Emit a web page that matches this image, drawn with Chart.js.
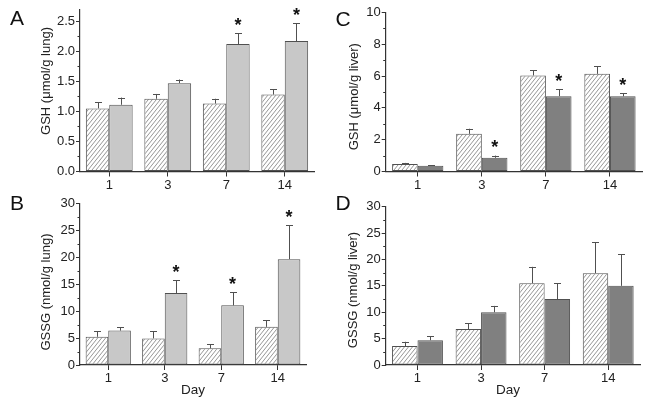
<!DOCTYPE html>
<html><head><meta charset="utf-8">
<script src="https://cdn.jsdelivr.net/npm/chart.js@4.4.1/dist/chart.umd.min.js"></script>
<style>
html,body{margin:0;padding:0;background:#fff;width:649px;height:405px;overflow:hidden}
canvas{position:absolute;display:block}
</style></head><body>
<canvas id="cA" width="322" height="195" style="left:0;top:0"></canvas>
<canvas id="cB" width="322" height="210" style="left:0;top:195px"></canvas>
<canvas id="cC" width="327" height="195" style="left:322px;top:0"></canvas>
<canvas id="cD" width="327" height="210" style="left:322px;top:195px"></canvas>
<script>
// ---- data ----
const days = ['1', '3', '7', '14'];

const lungGshCtrl = [1.05, 1.21, 1.13, 1.28];
const lungGshCtrlErr = [0.10, 0.08, 0.08, 0.09];
const lungGshTreat = [1.11, 1.47, 2.12, 2.17];
const lungGshTreatErr = [0.12, 0.06, 0.18, 0.30];
const lungGshStars = [false, false, true, true];
const lungGshTicks = [0, 0.5, 1.0, 1.5, 2.0, 2.5];

const lungGssgCtrl = [5.25, 4.95, 3.1, 7.1];
const lungGssgCtrlErr = [1.05, 1.35, 0.8, 1.25];
const lungGssgTreat = [6.4, 13.4, 11.1, 19.7];
const lungGssgTreatErr = [0.6, 2.4, 2.4, 6.3];
const lungGssgStars = [false, true, true, true];
const lungGssgTicks = [0, 5, 10, 15, 20, 25, 30];

const liverGshCtrl = [0.47, 2.37, 6.04, 6.14];
const liverGshCtrlErr = [0.07, 0.32, 0.33, 0.48];
const liverGshTreat = [0.36, 0.86, 4.74, 4.73];
const liverGshTreatErr = [0.04, 0.14, 0.42, 0.19];
const liverGshStars = [false, true, true, true];
const liverGshTicks = [0, 2, 4, 6, 8, 10];

const liverGssgCtrl = [3.6, 6.8, 15.5, 17.4];
const liverGssgCtrlErr = [0.8, 1.15, 3.1, 5.9];
const liverGssgTreat = [4.7, 10.0, 12.5, 15.0];
const liverGssgTreatErr = [0.75, 1.2, 3.0, 6.0];
const liverGssgStars = [false, false, false, false];
const liverGssgTicks = [0, 5, 10, 15, 20, 25, 30];

// ---- styles ----
const FONT = '"Liberation Sans", Arial, sans-serif';
const AXIS = '#333333';
const EDGE = '#505050';

function hatch() {
  const w = 4, h = 5;
  const c = document.createElement('canvas');
  c.width = w; c.height = h;
  const g = c.getContext('2d');
  g.fillStyle = '#ffffff'; g.fillRect(0, 0, w, h);
  g.strokeStyle = '#8a8a8a'; g.lineWidth = 0.9;
  for (const o of [-w, 0, w]) {
    g.beginPath(); g.moveTo(o, h); g.lineTo(o + w, 0); g.stroke();
  }
  return document.getElementById('cA').getContext('2d').createPattern(c, 'repeat');
}
const HATCH = hatch();

const overlay = {
  id: 'overlay',
  afterDatasetsDraw(chart, args, o) {
    const ctx = chart.ctx, y = chart.scales.y;
    ctx.save();
    // error bars + significance
    chart.data.datasets.forEach((ds, di) => {
      const meta = chart.getDatasetMeta(di);
      meta.data.forEach((bar, i) => {
        const v = ds.data[i], e = ds.errors[i];
        const yb = y.getPixelForValue(v), yt = y.getPixelForValue(v + e);
        const cx = Math.round(bar.x) + 0.5;
        ctx.strokeStyle = EDGE; ctx.lineWidth = 1;
        ctx.beginPath();
        ctx.moveTo(cx, yb); ctx.lineTo(cx, yt);
        ctx.moveTo(cx - 3.5, Math.round(yt) + 0.5); ctx.lineTo(cx + 3.5, Math.round(yt) + 0.5);
        ctx.stroke();
        if (ds.stars && ds.stars[i]) {
          ctx.fillStyle = '#111'; ctx.font = 'bold 18px ' + FONT;
          ctx.textAlign = 'center'; ctx.textBaseline = 'alphabetic';
          ctx.fillText('*', bar.x, yt - 12.5 + 10.3);
        }
      });
    });
    // minor ticks
    const vals = y.ticks.map(t => t.value);
    ctx.strokeStyle = AXIS; ctx.lineWidth = 1;
    ctx.beginPath();
    for (let i = 0; i < vals.length - 1; i++) {
      const m = (vals[i] + vals[i + 1]) / 2;
      const py = Math.round(y.getPixelForValue(m)) + 0.5;
      ctx.moveTo(y.right - 2.5, py); ctx.lineTo(y.right, py);
    }
    ctx.stroke();
    // texts
    ctx.fillStyle = '#111';
    ctx.font = '21px ' + FONT; ctx.textAlign = 'left'; ctx.textBaseline = 'alphabetic';
    ctx.fillText(o.letter, o.lx, o.ly);
    ctx.font = '13px ' + FONT; ctx.fillStyle = '#222';
    ctx.save();
    ctx.translate(o.tx, o.ty); ctx.rotate(-Math.PI / 2);
    ctx.textAlign = 'center'; ctx.textBaseline = 'middle';
    ctx.fillText(o.ytitle, 0, 0);
    ctx.restore();
    if (o.xtitle) {
      ctx.font = '13.5px ' + FONT; ctx.textAlign = 'center'; ctx.textBaseline = 'middle';
      ctx.fillText(o.xtitle, o.xx, o.xy);
    }
    ctx.restore();
  }
};

function panel(id, p) {
  new Chart(document.getElementById(id), {
    type: 'bar',
    data: {
      labels: days,
      datasets: [
        { data: p.ctrl, errors: p.ctrlErr, backgroundColor: HATCH, borderColor: EDGE, borderWidth: 1,
          borderSkipped: false, categoryPercentage: 0.8, barPercentage: 1.0 },
        { data: p.treat, errors: p.treatErr, stars: p.stars, backgroundColor: p.fill, borderColor: EDGE, borderWidth: 1,
          borderSkipped: false, categoryPercentage: 0.8, barPercentage: 1.0 }
      ]
    },
    options: {
      responsive: false, devicePixelRatio: 1, animation: false,
      layout: { padding: { left: 0, top: p.top, right: p.right, bottom: 0 } },
      plugins: { legend: { display: false }, tooltip: { enabled: false }, overlay: p.text },
      scales: {
        x: {
          afterFit: s => { s.height = p.xh; },
          grid: { display: true, drawOnChartArea: false, offset: false, tickLength: 5, tickColor: AXIS, tickWidth: 1 },
          border: { display: true, color: AXIS, width: 1.2 },
          ticks: { color: '#222', font: { family: FONT, size: 13 }, padding: 1, autoSkip: false, maxRotation: 0 }
        },
        y: {
          min: 0, max: p.max,
          afterFit: s => { s.width = p.left; },
          afterBuildTicks: s => { s.ticks = p.ticks.map(v => ({ value: v })); },
          grid: { display: true, drawOnChartArea: false, tickLength: 4, tickColor: AXIS, tickWidth: 1 },
          border: { display: true, color: AXIS, width: 1.2 },
          ticks: { color: '#222', font: { family: FONT, size: 13 }, padding: 1,
                   callback: v => p.dec ? Number(v).toFixed(1) : String(v) }
        }
      }
    },
    plugins: [overlay]
  });
}

panel('cA', { ctrl: lungGshCtrl, ctrlErr: lungGshCtrlErr, treat: lungGshTreat, treatErr: lungGshTreatErr,
  stars: lungGshStars, ticks: lungGshTicks, max: 2.7, dec: true, fill: '#c8c8c8',
  left: 80, right: 8, top: 9.2, xh: 23.5,
  text: { letter: 'A', lx: 10, ly: 24.5, ytitle: 'GSH (\u03bcmol/g lung)', tx: 46, ty: 81 } });

panel('cB', { ctrl: lungGssgCtrl, ctrlErr: lungGssgCtrlErr, treat: lungGssgTreat, treatErr: lungGssgTreatErr,
  stars: lungGssgStars, ticks: lungGssgTicks, max: 30, dec: false, fill: '#c8c8c8',
  left: 80, right: 16, top: 8.3, xh: 40,
  text: { letter: 'B', lx: 10, ly: 15, ytitle: 'GSSG (nmol/g lung)', tx: 46, ty: 97, xtitle: 'Day', xx: 193, xy: 195 } });

panel('cC', { ctrl: liverGshCtrl, ctrlErr: liverGshCtrlErr, treat: liverGshTreat, treatErr: liverGshTreatErr,
  stars: liverGshStars, ticks: liverGshTicks, max: 10, dec: false, fill: '#808080',
  left: 63.7, right: 7, top: 12.5, xh: 23.5,
  text: { letter: 'C', lx: 13.5, ly: 26, ytitle: 'GSH (\u03bcmol/g liver)', tx: 32, ty: 96.7 } });

panel('cD', { ctrl: liverGssgCtrl, ctrlErr: liverGssgCtrlErr, treat: liverGssgTreat, treatErr: liverGssgTreatErr,
  stars: liverGssgStars, ticks: liverGssgTicks, max: 30, dec: false, fill: '#808080',
  left: 63.7, right: 9, top: 11.7, xh: 40,
  text: { letter: 'D', lx: 13.5, ly: 15, ytitle: 'GSSG (nmol/g liver)', tx: 31, ty: 95, xtitle: 'Day', xx: 186, xy: 195 } });
</script>
</body></html>
